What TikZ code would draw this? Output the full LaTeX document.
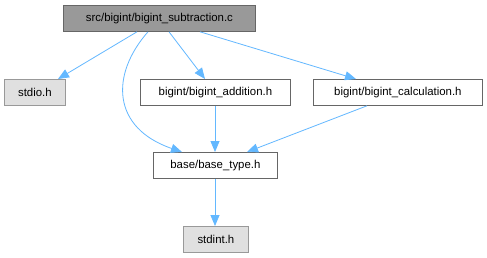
\documentclass[tikz,border=0pt]{standalone}
\usepackage{fontspec}
\setmainfont{Liberation Sans}
\usetikzlibrary{arrows.meta}
\definecolor{edgeblue}{HTML}{63B8FF}
\definecolor{boxline}{HTML}{666666}
\definecolor{sysfill}{HTML}{E0E0E0}
\definecolor{sysline}{HTML}{999999}
\definecolor{rootfill}{HTML}{999999}
\tikzset{
  filebox/.style={draw=boxline, fill=white, line width=0.8pt, minimum height=26pt,
    inner sep=0pt, font=\fontsize{11.4}{13}\selectfont, anchor=north west},
  sysbox/.style={filebox, draw=sysline, fill=sysfill},
  rootbox/.style={filebox, fill=rootfill},
  dep/.style={draw=edgeblue, line width=0.8pt,
    -{Triangle[length=11pt, width=9pt, fill=edgeblue]}}
}
\begin{document}
\begin{tikzpicture}[x=1pt, y=-1pt]
  \useasboundingbox (0,0) rectangle (487,257);
  \fill[white] (0,0) rectangle (487,257);

  % file boxes (north-west corner, width)
  \node[rootbox, minimum width=192pt] (root) at (63,5) {src/bigint/bigint\_subtraction.c};
  \node[sysbox, minimum width=61pt] (stdio) at (4,79) {stdio.h};
  \node[filebox, minimum width=150pt] (add) at (140,79) {bigint/bigint\_addition.h};
  \node[filebox, minimum width=169pt] (calc) at (313,79) {bigint/bigint\_calculation.h};
  \node[filebox, minimum width=124pt] (base) at (153,152) {base/base\_type.h};
  \node[sysbox, minimum width=65pt] (stdint) at (183,226) {stdint.h};

  % include edges
  \draw[dep] (root.south -| 137,0) -- (stdio.north -| 58,0);
  \draw[dep] (root.south -| 148,0) .. controls (110,75) and (112,128) .. (base.north -| 182,0);
  \draw[dep] (root.south -| 169,0) -- (add.north -| 205,0);
  \draw[dep] (root.south -| 200,0) -- (calc.north -| 356,0);
  \draw[dep] (add.south -| 215,0) -- (base.north -| 215,0);
  \draw[dep] (calc.south -| 367,0) -- (base.north -| 247,0);
  \draw[dep] (base.south -| 215,0) -- (stdint.north -| 215,0);
\end{tikzpicture}
\end{document}
